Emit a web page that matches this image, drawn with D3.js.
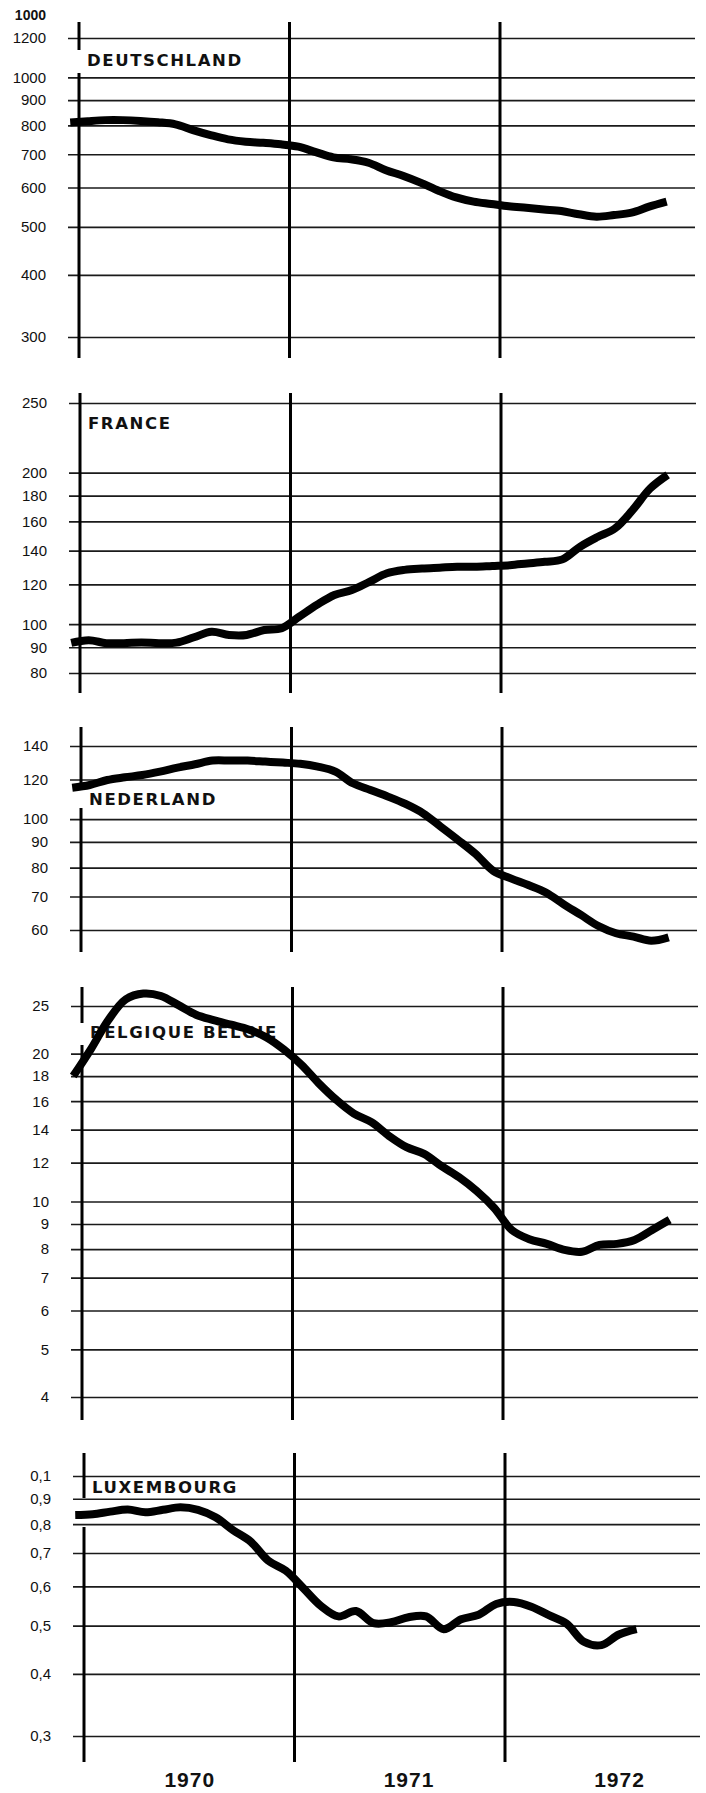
<!DOCTYPE html>
<html>
<head>
<meta charset="utf-8">
<script src="https://cdn.jsdelivr.net/npm/d3@7/dist/d3.min.js"></script>
<style>
	body { margin: 0; background: #fff; }
	svg  { display: block; }
	.tick text { font-family: "Liberation Sans", Arial, sans-serif; font-size: 15px; fill: #111; }
	.tick line { stroke: #1a1a1a; stroke-width: 1.7; }
	.countryTxt { font-family: "DejaVu Sans", sans-serif; font-weight: bold; font-size: 16.5px; letter-spacing: 1.6px; fill: #111; }
	.tick text.yearTxt { font-family: "Liberation Sans Narrow", "Liberation Sans", sans-serif; font-weight: bold; font-size: 21px; letter-spacing: 1px; fill: #111; }
	.unitTxt { font-family: "Liberation Sans", Arial, sans-serif; font-weight: bold; font-size: 14px; fill: #111; }
</style>
</head>
<body>
<div id="chartDiv"></div>
<script>

// Months since start of Jan 1970, one point a month:
var monthPos = [-0.5, 0.5, 1.5, 2.5, 3.5, 4.5, 5.5, 6.5, 7.5, 8.5, 9.5, 10.5,
                11.5, 12.5, 13.5, 14.5, 15.5, 16.5, 17.5, 18.5, 19.5, 20.5, 21.5, 22.5,
                23.5, 24.5, 25.5, 26.5, 27.5, 28.5, 29.5, 30.5, 31.5, 32.5, 33.5];

var deValues = [811, 816, 820, 820, 817, 812, 804, 783, 765, 750, 742, 738,
                733, 725, 707, 690, 684, 673, 650, 633, 613, 591, 573, 562,
                556, 550, 546, 542, 538, 530, 524, 528, 534, 549, 562];
var frValues = [91.8, 92.9, 91.7, 91.7, 92.0, 91.7, 91.9, 94.2, 96.6, 95.2, 95.2, 97.4,
                98.2, 103.5, 109.2, 114.3, 116.9, 121.4, 126.2, 128.2, 129, 129.5, 130, 130,
                130.5, 131, 132, 133, 134.5, 142.5, 149, 155, 168.5, 186, 198];
var nlValues = [115.5, 117, 119.7, 121.2, 122.5, 124.4, 126.7, 128.7, 130.9, 130.9, 130.9, 130.3,
                129.7, 129, 127.3, 124.4, 117.9, 114.3, 110.9, 107.2, 102.7, 96.6, 90.8, 85.1,
                78.8, 76.1, 73.8, 71.3, 67.6, 64.3, 61.1, 59.1, 58.2, 57.1, 58.0];
var beValues = [18.0, 20.4, 23.4, 25.8, 26.5, 26.2, 25.1, 24.0, 23.4, 22.9, 22.4, 21.6,
                20.4, 19.0, 17.4, 16.1, 15.1, 14.5, 13.6, 12.9, 12.5, 11.8, 11.2, 10.5,
                9.7, 8.75, 8.38, 8.2, 7.97, 7.9, 8.16, 8.2, 8.35, 8.75, 9.18];
var luValues = [0.835, 0.838, 0.848, 0.856, 0.845, 0.855, 0.865, 0.855, 0.826, 0.778, 0.738, 0.676,
                0.645, 0.595, 0.548, 0.522, 0.535, 0.506, 0.508, 0.520, 0.522, 0.492, 0.515, 0.526,
                0.553, 0.558, 0.546, 0.525, 0.505, 0.464, 0.457, 0.480, 0.492];

// Gridline values and the labels printed next to them.
// (The printed France top line says 250 but sits where ~275 would be;
//  the Luxembourg top line, printed "0,1", is 1,0.)
var deTicks  = [300, 400, 500, 600, 700, 800, 900, 1000, 1200];
var deLabels = ["300", "400", "500", "600", "700", "800", "900", "1000", "1200"];
var frTicks  = [80, 90, 100, 120, 140, 160, 180, 200, 275];
var frLabels = ["80", "90", "100", "120", "140", "160", "180", "200", "250"];
var nlTicks  = [60, 70, 80, 90, 100, 120, 140];
var nlLabels = ["60", "70", "80", "90", "100", "120", "140"];
var beTicks  = [4, 5, 6, 7, 8, 9, 10, 12, 14, 16, 18, 20, 25];
var beLabels = ["4", "5", "6", "7", "8", "9", "10", "12", "14", "16", "18", "20", "25"];
var luTicks  = [0.3, 0.4, 0.5, 0.6, 0.7, 0.8, 0.9, 1.0];
var luLabels = ["0,3", "0,4", "0,5", "0,6", "0,7", "0,8", "0,9", "0,1"];

var countryNames = ["DEUTSCHLAND", "FRANCE", "NEDERLAND", "BELGIQUE BELGIE", "LUXEMBOURG"];

var yearLines       = [0, 12, 24];        // year boundaries, in months
var yearLabels      = ["1970", "1971", "1972"];
var yearLabelMonths = [6, 18.5, 30.5];

var EecChart = function(width, height) {

	var width  = width;
	var height = height;
	var svg    = null;
	var xScale = null;

	// Constants

	var LINE_X0    = 79;     // x of Jan 1970 line
	var LINE_X24   = 500;    // x of Jan 1972 line
	var GRID_LEFT  = 68;
	var GRID_RIGHT = 695;
	var LABEL_GAP  = 22;     // tick label right edge to grid start

	/*---------------------------
	| constructor 
	-----------------*/

	var constructor = function() {

		svg = d3.select("#chartDiv").append("svg")
			.attr("width", width)
			.attr("height", height)
			.attr("viewBox", `0 0 ${width} ${height}`);

		svg.append("rect")
			.attr("width", width)
			.attr("height", height)
			.attr("fill", "#fff");

		xScale = d3.scaleLinear()
			.domain([0, 24])
			.range([LINE_X0, LINE_X24]);

		// Per panel layout. The scan drifts right a little
		// going down the page, hence dx:
		var panels = [
			{ name: countryNames[0], values: deValues, ticks: deTicks, labels: deLabels,
			  yBot: 337, yTop: 38, vTop: 22, vBot: 358, dx: 0, nameY: 60, gap: [50, 73] },
			{ name: countryNames[1], values: frValues, ticks: frTicks, labels: frLabels,
			  yBot: 673, yTop: 403, vTop: 393, vBot: 693, dx: 1, nameY: 423, gap: null },
			{ name: countryNames[2], values: nlValues, ticks: nlTicks, labels: nlLabels,
			  yBot: 930, yTop: 746, vTop: 727, vBot: 952, dx: 2, nameY: 799, gap: [788, 808] },
			{ name: countryNames[3], values: beValues, ticks: beTicks, labels: beLabels,
			  yBot: 1397, yTop: 1006, vTop: 987, vBot: 1420, dx: 3, nameY: 1032, gap: [1023, 1045] },
			{ name: countryNames[4], values: luValues, ticks: luTicks, labels: luLabels,
			  yBot: 1736, yTop: 1476, vTop: 1453, vBot: 1762, dx: 5, nameY: 1487, gap: [1498, 1527] }
		];

		panels.forEach(drawPanel);

		// Stray unit marker above the first panel:
		svg.append("text")
			.attr("class", "unitTxt")
			.attr("x", 46)
			.attr("y", 20)
			.attr("text-anchor", "end")
			.text("1000");

		addYearLabels(5);

		return {};
	}

	/*---------------------------
	| drawPanel 
	-----------------*/

	var drawPanel = function(p) {

		var g = svg.append("g")
			.attr("class", "panel")
			.attr("transform", `translate(${p.dx},0)`);

		var yScale = d3.scaleLog()
			.domain([p.ticks[0], p.ticks[p.ticks.length - 1]])
			.range([p.yBot, p.yTop]);

		// Horizontal grid with the tick labels:
		var yAxis = d3.axisLeft(yScale)
			.tickValues(p.ticks)
			.tickFormat(function(d, i) { return p.labels[i]; })
			.tickSize(-(GRID_RIGHT - GRID_LEFT))
			.tickPadding(LABEL_GAP);

		g.append("g")
			.attr("class", "yAxis")
			.attr("transform", `translate(${GRID_LEFT},0)`)
			.call(yAxis)
			.call(function(sel) { sel.select(".domain").remove(); });

		// Year separators:
		yearLines.forEach(function(m, i) {
			var segs = [[p.vTop, p.vBot]];
			if ( i === 0 && p.gap !== null ) {
				segs = [[p.vTop, p.gap[0]], [p.gap[1], p.vBot]];
			}
			segs.forEach(function(s) {
				g.append("line")
					.attr("class", "yearLine")
					.attr("x1", xScale(m))
					.attr("x2", xScale(m))
					.attr("y1", s[0])
					.attr("y2", s[1])
					.attr("stroke", "#000")
					.attr("stroke-width", 3);
			});
		});

		g.append("text")
			.attr("class", "countryTxt")
			.attr("x", xScale(0) + 8)
			.attr("y", p.nameY)
			.attr("dy", "0.36em")
			.text(p.name);

		var line = d3.line()
			.x(function(d, i) { return xScale(monthPos[i]); })
			.y(function(d) { return yScale(d); })
			.curve(d3.curveCatmullRom.alpha(0.5));

		g.append("path")
			.datum(p.values)
			.attr("class", "dataLine")
			.attr("d", line)
			.attr("fill", "none")
			.attr("stroke", "#000")
			.attr("stroke-width", 8)
			.attr("stroke-linejoin", "round");
	}

	/*---------------------------
	| addYearLabels 
	-----------------*/

	var addYearLabels = function(dx) {

		var xAxis = d3.axisBottom(xScale)
			.tickValues(yearLabelMonths)
			.tickFormat(function(d, i) { return yearLabels[i]; })
			.tickSize(0)
			.tickPadding(0);

		var g = svg.append("g")
			.attr("class", "xAxis")
			.attr("transform", `translate(${dx},1772)`)
			.call(xAxis);

		g.select(".domain").remove();
		g.selectAll("text")
			.attr("class", "yearTxt")
			.attr("dy", "0.71em");
	}

	return constructor(width, height);
}

var chart = EecChart(706, 1793);

</script>
</body>
</html>
